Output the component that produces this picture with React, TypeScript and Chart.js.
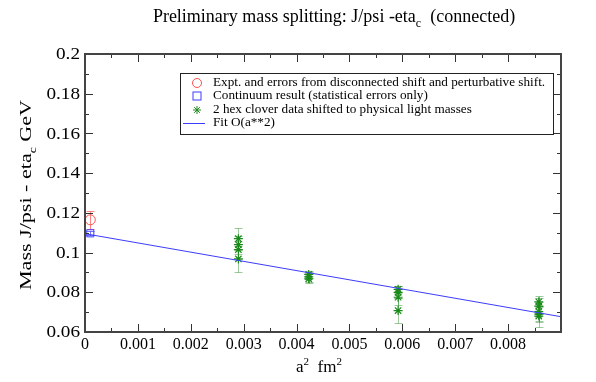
import React, { useEffect, useRef } from "react";
import { Chart, registerables } from "chart.js";

Chart.register(...registerables);

// ---- data ----
const exptX = [0.0001];
const exptY = [0.1165];
const exptErr = [0.0045];

const contX = [0.0001];
const contY = [0.1097];
const contErr = [0.0010];

const starX = [
  0.0029, 0.0029, 0.0029, 0.0029,
  0.00423, 0.00423, 0.00423,
  0.00592, 0.00592, 0.00592, 0.00592,
  0.00858, 0.00858, 0.00858, 0.00858, 0.00858,
];
const starY = [
  0.1070, 0.1040, 0.1015, 0.0968,
  0.0890, 0.0878, 0.0868,
  0.0815, 0.0800, 0.0775, 0.0708,
  0.0752, 0.0730, 0.0703, 0.0690, 0.0680,
];
const starErr = [
  0.0056, 0.0045, 0.0045, 0.0065,
  0.0018, 0.0025, 0.0022,
  0.0017, 0.0030, 0.0040, 0.0064,
  0.0028, 0.0040, 0.0050, 0.0040, 0.0053,
];

const fitX = [0, 0.009];
const fitY = [0.1095, 0.0677];

const legendLabels = [
  "Expt. and errors from disconnected shift and perturbative shift.",
  "Continuum result (statistical errors only)",
  "2 hex clover data shifted to physical light masses",
  "Fit O(a**2)",
];

const X_MIN = 0, X_MAX = 0.009, X_MAJOR = 0.001, X_MINOR = 0.0005;
const Y_MIN = 0.06, Y_MAX = 0.2, Y_MAJOR = 0.02, Y_MINOR = 0.01;

const RED = "#ff5050";
const BLUE = "#3c3cff";
const GREEN = "#1a8a1a";
const GREEN_ERR = "rgba(40,140,40,0.45)";
const SERIF = '"Liberation Serif", "Times New Roman", serif';

const pts = (xs: number[], ys: number[]) => xs.map((x, i) => ({ x, y: ys[i] }));
const fmt = (v: number) => String(+Number(v).toFixed(4));

function drawStar(ctx: CanvasRenderingContext2D, x: number, y: number, r: number) {
  ctx.beginPath();
  ctx.moveTo(x - r, y); ctx.lineTo(x + r, y);
  ctx.moveTo(x, y - r); ctx.lineTo(x, y + r);
  const d = r * 0.7071;
  ctx.moveTo(x - d, y - d); ctx.lineTo(x + d, y + d);
  ctx.moveTo(x - d, y + d); ctx.lineTo(x + d, y - d);
  ctx.stroke();
}

const errorBars = {
  id: "errorBars",
  beforeDatasetsDraw(chart: any) {
    const { ctx, scales } = chart;
    const xs = scales.x, ys = scales.y;
    ctx.save();
    chart.data.datasets.forEach((ds: any) => {
      if (!ds.errors) return;
      ctx.strokeStyle = ds.errColor;
      ctx.lineWidth = 1;
      ds.data.forEach((p: any, i: number) => {
        const e = ds.errors[i];
        const px = Math.round(xs.getPixelForValue(p.x)) + 0.5;
        const y1 = Math.round(ys.getPixelForValue(p.y + e)) + 0.5;
        const y2 = Math.round(ys.getPixelForValue(p.y - e)) + 0.5;
        const c = ds.capHalf;
        ctx.beginPath();
        ctx.moveTo(px, y1); ctx.lineTo(px, y2);
        ctx.moveTo(px - c, y1); ctx.lineTo(px + c, y1);
        ctx.moveTo(px - c, y2); ctx.lineTo(px + c, y2);
        ctx.stroke();
      });
    });
    ctx.restore();
  },
};

const isMajor = (v: number, step: number) => Math.abs(v / step - Math.round(v / step)) < 1e-6;

// text with horizontal stretch
function stretchText(ctx: CanvasRenderingContext2D, t: string, x: number, y: number, sx: number, align: "left" | "right" | "center") {
  const w = ctx.measureText(t).width * sx;
  let x0 = x;
  if (align === "right") x0 = x - w;
  else if (align === "center") x0 = x - w / 2;
  ctx.save();
  ctx.translate(x0, y);
  ctx.scale(sx, 1);
  ctx.textAlign = "left";
  ctx.fillText(t, 0, 0);
  ctx.restore();
}

const frame = {
  id: "frame",
  afterDatasetsDraw(chart: any) {
    const { ctx, chartArea, scales } = chart;
    const { left, right, top, bottom } = chartArea;
    ctx.save();
    ctx.strokeStyle = "#333";
    ctx.lineWidth = 1;
    const nx = Math.round((X_MAX - X_MIN) / X_MINOR);
    for (let i = 1; i < nx; i++) {
      const v = X_MIN + i * X_MINOR;
      const px = Math.round(scales.x.getPixelForValue(v)) + 0.5;
      const len = isMajor(v, X_MAJOR) ? 8 : 4;
      ctx.beginPath();
      ctx.moveTo(px, bottom); ctx.lineTo(px, bottom - len);
      ctx.moveTo(px, top); ctx.lineTo(px, top + len);
      ctx.stroke();
    }
    const ny = Math.round((Y_MAX - Y_MIN) / Y_MINOR);
    for (let i = 1; i < ny; i++) {
      const v = Y_MIN + i * Y_MINOR;
      const py = Math.round(scales.y.getPixelForValue(v)) + 0.5;
      const len = isMajor(v, Y_MAJOR) ? 8 : 4;
      ctx.beginPath();
      ctx.moveTo(left, py); ctx.lineTo(left + len, py);
      ctx.moveTo(right, py); ctx.lineTo(right - len, py);
      ctx.stroke();
    }
    ctx.lineWidth = 2;
    ctx.strokeStyle = "#444";
    ctx.strokeRect(left, top, right - left, bottom - top);

    // y tick labels (slightly wide serif like the reference)
    ctx.fillStyle = "#000";
    ctx.font = `16px ${SERIF}`;
    ctx.textBaseline = "middle";
    scales.y.ticks.forEach((t: any) => {
      const py = scales.y.getPixelForValue(t.value);
      stretchText(ctx, fmt(t.value), left - 5, py + 1, 1.2, "right");
    });
    ctx.restore();
  },
};

// draw a sequence of [text, kind] where kind: 0 normal, 1 sub, 2 sup
function runsWidth(ctx: CanvasRenderingContext2D, parts: [string, number][], size: number) {
  let w = 0;
  for (const [t, k] of parts) {
    ctx.font = `${k ? Math.round(size * 0.65) : size}px ${SERIF}`;
    w += ctx.measureText(t).width;
  }
  return w;
}
function drawRuns(ctx: CanvasRenderingContext2D, parts: [string, number][], size: number, cx: number, baseY: number, sx = 1) {
  const w = runsWidth(ctx, parts, size);
  ctx.save();
  ctx.translate(cx, baseY);
  ctx.scale(sx, 1);
  let x = -w / 2;
  ctx.textAlign = "left";
  ctx.textBaseline = "alphabetic";
  for (const [t, k] of parts) {
    ctx.font = `${k ? Math.round(size * 0.65) : size}px ${SERIF}`;
    const dy = k === 1 ? size * 0.3 : k === 2 ? -size * 0.42 : 0;
    ctx.fillText(t, x, dy);
    x += ctx.measureText(t).width;
  }
  ctx.restore();
}

const texts = {
  id: "texts",
  afterDraw(chart: any) {
    const { ctx } = chart;
    ctx.save();
    ctx.fillStyle = "#000";
    drawRuns(ctx, [["Preliminary mass splitting: J/psi -eta", 0], ["c", 1], ["  (connected)", 0]], 18, 334, 22);
    drawRuns(ctx, [["a", 0], ["2", 2], ["  fm", 0], ["2", 2]], 17, 319, 372);
    ctx.save();
    ctx.translate(31, 195);
    ctx.rotate(-Math.PI / 2);
    drawRuns(ctx, [["Mass J/psi - eta", 0], ["c", 1], [" GeV", 0]], 16, 0, 0, 1.38);
    ctx.restore();

    // legend
    const bx = 180, by = 73, bw = 373, bh = 61;
    ctx.fillStyle = "#fff";
    ctx.fillRect(bx, by, bw, bh);
    ctx.strokeStyle = "#222";
    ctx.lineWidth = 1;
    ctx.strokeRect(bx + 0.5, by + 0.5, bw, bh);
    const rowY = [83, 96, 110, 123];
    const sx = 197;
    ctx.font = `12px ${SERIF}`;
    ctx.textBaseline = "middle";
    ctx.fillStyle = "#000";
    legendLabels.forEach((l, i) => stretchText(ctx, l, 213, rowY[i], 1.1, "left"));
    ctx.lineWidth = 1;
    ctx.strokeStyle = RED;
    ctx.beginPath(); ctx.arc(sx, rowY[0], 4.5, 0, Math.PI * 2); ctx.stroke();
    ctx.strokeStyle = BLUE;
    ctx.strokeRect(sx - 4, rowY[1] - 4, 8, 8);
    ctx.strokeStyle = GREEN;
    drawStar(ctx, sx, rowY[2], 4);
    ctx.strokeStyle = BLUE;
    ctx.beginPath(); ctx.moveTo(183, rowY[3] + 0.5); ctx.lineTo(205, rowY[3] + 0.5); ctx.stroke();
    ctx.restore();
  },
};

export default function App() {
  const ref = useRef<HTMLCanvasElement>(null);
  useEffect(() => {
    document.body.style.margin = "0";
    const chart = new Chart(ref.current!, {
      type: "scatter",
      data: {
        datasets: [
          {
            label: legendLabels[3],
            type: "line",
            data: pts(fitX, fitY),
            borderColor: BLUE,
            borderWidth: 1,
            pointRadius: 0,
            fill: false,
          } as any,
          {
            label: legendLabels[0],
            data: pts(exptX, exptY),
            errors: exptErr,
            errColor: "rgba(255,80,80,0.7)",
            capHalf: 4,
            pointStyle: "circle",
            pointRadius: 5,
            borderColor: RED,
            backgroundColor: "transparent",
            borderWidth: 1,
          } as any,
          {
            label: legendLabels[1],
            data: pts(contX, contY),
            errors: contErr,
            errColor: "rgba(60,60,255,0.7)",
            capHalf: 4,
            pointStyle: "rect",
            pointRadius: 5,
            borderColor: BLUE,
            backgroundColor: "transparent",
            borderWidth: 1,
          } as any,
          {
            label: legendLabels[2],
            data: pts(starX, starY),
            errors: starErr,
            errColor: GREEN_ERR,
            capHalf: 4,
            pointStyle: "star",
            pointRadius: 4.5,
            borderColor: GREEN,
            backgroundColor: GREEN,
            borderWidth: 1.2,
          } as any,
        ],
      },
      options: {
        responsive: false,
        animation: false,
        layout: { padding: { top: 54, right: 35, left: 0, bottom: 0 } },
        plugins: { legend: { display: false }, title: { display: false }, tooltip: { enabled: false } },
        scales: {
          x: {
            type: "linear",
            min: X_MIN,
            max: X_MAX,
            grid: { display: false, drawTicks: false },
            border: { display: false },
            ticks: {
              stepSize: X_MAJOR,
              autoSkip: false,
              maxRotation: 0,
              padding: 3,
              color: "#000",
              font: { family: SERIF, size: 16 },
              callback: (v: any) => (Math.abs(v - X_MAX) < 1e-9 ? "" : fmt(v)),
            },
            afterFit: (s: any) => { s.height = 50; },
          },
          y: {
            type: "linear",
            min: Y_MIN,
            max: Y_MAX,
            grid: { display: false, drawTicks: false },
            border: { display: false },
            ticks: {
              display: false,
              stepSize: Y_MAJOR,
            },
            afterFit: (s: any) => { s.width = 85; },
          },
        },
      },
      plugins: [errorBars, frame, texts],
    });
    return () => chart.destroy();
  }, []);
  return (
    <div style={{ width: 596, height: 382, background: "#fff" }}>
      <canvas ref={ref} width={596} height={382} />
    </div>
  );
}
